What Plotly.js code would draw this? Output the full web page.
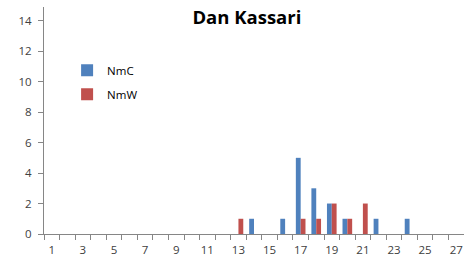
<!DOCTYPE html>
<html><head><meta charset="utf-8">
<script src="https://cdn.plot.ly/plotly-3.0.1.min.js"></script>
<style>html,body{margin:0;padding:0;background:#fff}#c{width:464px;height:257px}</style>
</head><body><div id="c"></div>
<script>
const categories = [1,2,3,4,5,6,7,8,9,10,11,12,13,14,15,16,17,18,19,20,21,22,23,24,25,26,27];
const nmC = [0,0,0,0,0,0,0,0,0,0,0,0,0,1,0,1,5,3,2,1,0,1,0,1,0,0,0];
const nmW = [0,0,0,0,0,0,0,0,0,0,0,0,1,0,0,0,1,1,2,1,2,0,0,0,0,0,0];
const xTickLabels = [1,3,5,7,9,11,13,15,17,19,21,23,25,27];

const font = {family: 'Open Sans, Liberation Sans, sans-serif', size: 11.5, color: '#404040'};
Plotly.newPlot('c', [
  {type:'bar', name:'NmC', legendgroup:'a', x:categories, y:nmC, marker:{color:'#4F81BD'}},
  {type:'bar', name:'NmW', legendgroup:'b', x:categories, y:nmW, marker:{color:'#C0504D'}}
], {
  width:464, height:257,
  margin:{l:44, r:0, t:7, b:23},
  paper_bgcolor:'#fff', plot_bgcolor:'#fff',
  barmode:'group', bargap:0.38, bargroupgap:0,
  title:{text:'<b>Dan Kassari</b>', x:0.532, xanchor:'center', y:0.93, yanchor:'middle', font:{family:'Open Sans, Liberation Sans, sans-serif', size:18.5, color:'#000'}},
  font: font,
  showlegend:true,
  legend:{x:0.055, y:0.785, xanchor:'left', yanchor:'top', bgcolor:'rgba(0,0,0,0)', font:{family:'Open Sans, sans-serif', size:11.5, color:'#000'}, itemwidth:30, tracegroupgap:5},
  xaxis:{range:[0.5,27.5], tickmode:'array', tickvals:xTickLabels, ticktext:xTickLabels.map(String), ticks:'', showgrid:false, zeroline:false,
    showline:true, linecolor:'#868686', linewidth:1, tickfont:font, ticklabelstandoff:5,
    minor:{tickmode:'linear', tick0:0.5, dtick:1, ticks:'outside', ticklen:5, tickcolor:'#868686', showgrid:false}},
  yaxis:{range:[0,14.9], tickmode:'linear', tick0:0, dtick:2, ticks:'outside', ticklen:5, tickcolor:'#868686', showgrid:false, zeroline:false,
    showline:true, linecolor:'#868686', linewidth:1, tickfont:font, ticklabelstandoff:4}
}, {displayModeBar:false, staticPlot:true});
</script></body></html>
